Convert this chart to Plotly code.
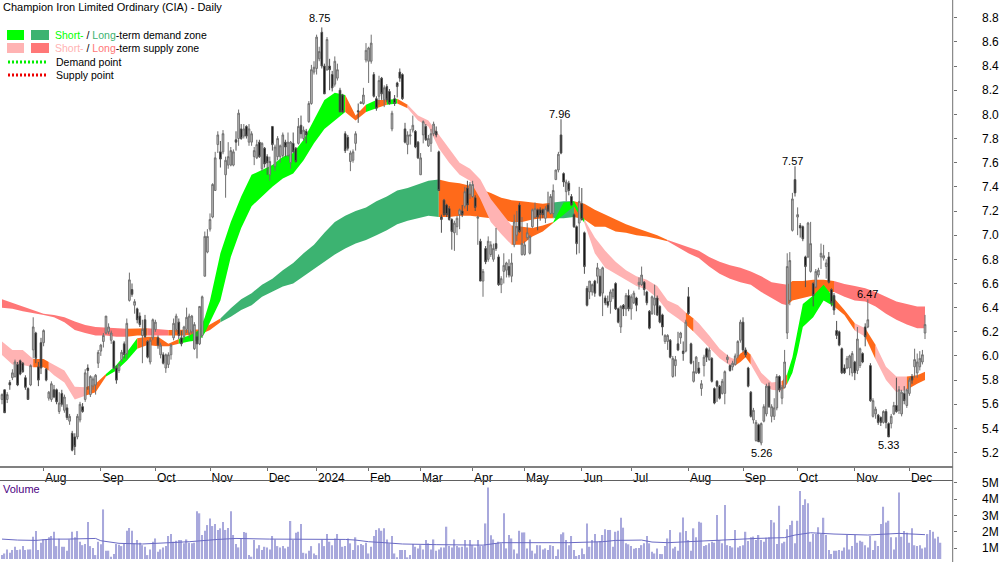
import plotly.graph_objects as go

opens = [
    5.64, 5.72, 5.64, 5.78, 5.82, 5.83, 5.93, 5.96, 5.94, 5.82,
    5.73, 5.76, 6.05, 6.19, 5.91, 6.11, 6.11, 5.89, 5.65, 5.64,
    5.72, 5.72, 5.54, 5.69, 5.55, 5.57, 5.46, 5.36, 5.33, 5.33,
    5.47, 5.58, 5.64, 5.90, 5.68, 5.75, 5.76, 5.94, 6.04, 6.12,
    6.19, 6.20, 6.13, 6.12, 5.90, 5.88, 5.97, 6.10, 6.02, 6.46,
    6.55, 6.42, 6.39, 6.33, 6.17, 6.30, 6.12, 5.95, 6.15, 6.22,
    6.15, 6.01, 6.01, 5.90, 5.93, 6.01, 6.15, 6.22, 6.28, 6.15,
    6.16, 6.22, 6.19, 6.20, 6.06, 6.16, 6.10, 6.17, 6.66, 6.86,
    7.05, 7.15, 7.37, 7.75, 7.69, 7.69, 7.50, 7.58, 7.58, 7.58,
    7.79, 7.80, 7.88, 7.82, 7.90, 7.77, 7.77, 7.65, 7.64, 7.77,
    7.55, 7.72, 7.65, 7.50, 7.90, 7.57, 7.65, 7.65, 7.66, 7.77,
    7.66, 7.60, 7.76, 7.72, 7.76, 7.91, 7.80, 7.86, 7.94, 8.09,
    8.35, 8.38, 8.46, 8.68, 8.40, 8.37, 8.40, 8.33, 8.25, 8.30,
    8.20, 8.16, 7.84, 7.81, 7.61, 7.62, 7.76, 8.03, 8.09, 8.09,
    8.45, 8.44, 8.44, 8.33, 8.13, 8.15, 8.30, 8.12, 8.23, 8.19,
    7.88, 8.13, 8.26, 8.35, 8.33, 7.88, 7.75, 7.82, 7.87, 7.86,
    7.77, 7.50, 7.83, 7.90, 7.74, 7.76, 7.84, 7.86, 7.69, 7.15,
    7.29, 7.25, 7.22, 7.13, 7.02, 7.07, 7.17, 7.20, 7.24, 7.39,
    7.34, 7.32, 7.31, 7.14, 6.95, 6.62, 6.89, 6.80, 6.84, 6.80,
    6.93, 6.82, 6.59, 6.70, 6.71, 6.74, 6.66, 6.92, 7.00, 7.25,
    6.84, 6.84, 6.98, 6.85, 7.07, 7.15, 7.21, 7.21, 7.21, 7.14,
    7.25, 7.18, 7.18, 7.46, 7.54, 7.83, 7.51, 7.36, 7.43, 7.32,
    7.17, 7.07, 7.10, 7.26, 7.02, 6.56, 6.53, 6.53, 6.62, 6.66,
    6.66, 6.52, 6.48, 6.45, 6.45, 6.49, 6.60, 6.39, 6.24, 6.42,
    6.39, 6.50, 6.39, 6.44, 6.48, 6.59, 6.59, 6.61, 6.53, 6.37,
    6.35, 6.42, 6.48, 6.41, 6.34, 6.12, 6.12, 6.13, 5.83, 5.92,
    6.10, 6.15, 6.04, 6.04, 6.49, 6.10, 5.79, 5.86, 5.90, 5.73,
    5.92, 6.06, 5.97, 5.98, 5.73, 5.79, 5.75, 5.69, 5.69, 5.97,
    5.92, 5.91, 5.93, 6.00, 6.13, 6.28, 6.05, 5.90, 5.70, 5.47,
    5.30, 5.43, 5.28, 5.46, 5.52, 5.75, 5.50, 5.50, 5.57, 5.83,
    5.65, 5.74, 6.19, 6.46, 7.04, 7.46, 7.15, 7.08, 7.07, 6.82,
    6.82, 6.70, 6.60, 6.57, 6.67, 6.82, 6.81, 6.74, 6.82, 6.55,
    6.50, 6.21, 6.20, 6.06, 5.90, 5.90, 5.90, 5.86, 5.95, 5.88,
    5.92, 6.02, 6.24, 6.24, 5.92, 5.50, 5.52, 5.51, 5.49, 5.45,
    5.54, 5.44, 5.44, 5.52, 5.59, 5.55, 5.52, 5.69, 5.59, 5.69,
    5.83, 5.91, 5.86, 5.91, 5.95, 6.19,
]
closes = [
    5.68, 5.53, 5.68, 5.76, 5.86, 5.95, 5.76, 5.85, 5.87, 5.74,
    5.64, 5.92, 6.24, 5.98, 5.80, 5.90, 6.21, 5.80, 5.70, 5.77,
    5.66, 5.62, 5.61, 5.60, 5.66, 5.49, 5.50, 5.22, 5.25, 5.50,
    5.60, 5.54, 5.86, 5.88, 5.83, 5.81, 5.84, 6.03, 6.09, 6.17,
    6.33, 6.24, 6.19, 5.90, 5.80, 5.93, 6.03, 6.01, 6.27, 6.63,
    6.51, 6.45, 6.30, 6.26, 6.22, 6.16, 5.99, 6.13, 6.30, 6.28,
    6.09, 6.09, 5.94, 6.01, 6.01, 6.09, 6.27, 6.33, 6.17, 6.10,
    6.24, 6.32, 6.33, 6.33, 6.26, 6.10, 6.41, 6.49, 6.99, 6.99,
    7.13, 7.42, 7.64, 7.83, 7.63, 7.84, 7.62, 7.65, 7.70, 7.69,
    7.77, 8.01, 7.80, 7.88, 7.82, 7.88, 7.84, 7.70, 7.75, 7.65,
    7.76, 7.59, 7.60, 7.61, 7.75, 7.73, 7.80, 7.74, 7.83, 7.73,
    7.77, 7.77, 7.69, 7.61, 7.90, 7.84, 7.87, 7.83, 8.09, 8.37,
    8.39, 8.64, 8.52, 8.40, 8.17, 8.62, 8.37, 8.22, 8.44, 8.37,
    8.02, 8.02, 7.70, 7.72, 7.68, 7.69, 7.84, 8.02, 8.10, 8.16,
    8.53, 8.55, 8.59, 8.15, 8.05, 8.28, 8.17, 8.22, 8.12, 8.09,
    8.01, 8.09, 8.23, 8.30, 8.13, 7.77, 7.83, 7.83, 7.91, 7.73,
    7.64, 7.64, 7.94, 7.79, 7.80, 7.84, 7.92, 7.83, 7.37, 7.13,
    7.17, 7.17, 7.13, 7.03, 7.10, 7.14, 7.21, 7.17, 7.36, 7.25,
    7.42, 7.42, 7.23, 7.15, 6.62, 6.70, 6.78, 6.95, 6.92, 6.89,
    6.89, 6.59, 6.64, 6.75, 6.77, 6.67, 6.77, 7.11, 7.07, 7.03,
    6.93, 6.92, 7.02, 6.99, 7.21, 7.22, 7.15, 7.17, 7.17, 7.22,
    7.20, 7.32, 7.37, 7.54, 7.67, 7.68, 7.44, 7.44, 7.37, 7.25,
    7.07, 6.93, 7.28, 7.13, 6.74, 6.42, 6.62, 6.59, 6.52, 6.73,
    6.50, 6.73, 6.44, 6.42, 6.53, 6.55, 6.39, 6.28, 6.41, 6.39,
    6.50, 6.39, 6.49, 6.52, 6.42, 6.61, 6.67, 6.55, 6.44, 6.23,
    6.49, 6.48, 6.34, 6.28, 6.24, 6.17, 6.17, 5.99, 5.98, 5.97,
    6.05, 6.19, 6.02, 6.28, 6.35, 5.94, 5.87, 5.99, 5.86, 5.77,
    5.99, 5.99, 6.05, 5.79, 5.61, 5.75, 5.65, 5.79, 5.87, 5.99,
    5.88, 5.94, 6.00, 6.12, 6.28, 6.05, 6.01, 5.75, 5.50, 5.55,
    5.45, 5.29, 5.44, 5.58, 5.75, 5.58, 5.58, 5.57, 5.83, 5.72,
    5.74, 5.95, 6.74, 6.79, 7.30, 7.35, 7.17, 7.06, 6.97, 6.74,
    7.10, 6.93, 6.50, 6.70, 6.71, 6.85, 6.83, 6.77, 6.61, 6.44,
    6.38, 6.17, 6.09, 5.86, 5.86, 5.98, 6.00, 6.02, 5.86, 6.14,
    6.06, 5.95, 6.16, 6.30, 5.63, 5.63, 5.56, 5.45, 5.45, 5.54,
    5.45, 5.33, 5.50, 5.59, 5.54, 5.72, 5.70, 5.63, 5.72, 5.80,
    5.80, 5.97, 5.95, 5.98, 6.01, 6.26,
]
highs = [
    5.69, 5.72, 5.70, 5.80, 5.89, 5.97, 5.95, 5.97, 5.95, 5.84,
    5.74, 5.93, 6.32, 6.20, 5.95, 6.15, 6.22, 5.90, 5.71, 5.79,
    5.76, 5.73, 5.70, 5.72, 5.68, 5.60, 5.52, 5.38, 5.36, 5.52,
    5.62, 5.61, 5.89, 5.93, 5.84, 5.83, 5.85, 6.05, 6.10, 6.19,
    6.33, 6.27, 6.21, 6.13, 5.92, 5.94, 6.05, 6.12, 6.31, 6.69,
    6.60, 6.47, 6.40, 6.36, 6.30, 6.34, 6.13, 6.15, 6.31, 6.30,
    6.17, 6.11, 6.03, 6.02, 6.03, 6.10, 6.31, 6.35, 6.31, 6.21,
    6.25, 6.40, 6.35, 6.34, 6.28, 6.20, 6.41, 6.50, 7.03, 7.05,
    7.18, 7.43, 7.69, 7.86, 7.78, 7.87, 7.65, 7.77, 7.73, 7.71,
    7.86, 8.04, 7.92, 7.92, 7.91, 7.92, 7.86, 7.73, 7.79, 7.79,
    7.77, 7.73, 7.67, 7.65, 7.90, 7.75, 7.82, 7.75, 7.85, 7.79,
    7.85, 7.78, 7.85, 7.73, 7.97, 7.99, 7.90, 7.88, 8.11, 8.41,
    8.44, 8.66, 8.56, 8.72, 8.42, 8.64, 8.46, 8.36, 8.48, 8.42,
    8.22, 8.17, 7.86, 7.83, 7.70, 7.71, 7.86, 8.09, 8.11, 8.22,
    8.59, 8.56, 8.66, 8.35, 8.15, 8.32, 8.31, 8.24, 8.25, 8.21,
    8.03, 8.16, 8.27, 8.38, 8.34, 7.93, 7.86, 7.88, 7.99, 7.87,
    7.78, 7.68, 7.95, 7.92, 7.83, 7.88, 7.94, 7.90, 7.70, 7.17,
    7.30, 7.26, 7.24, 7.14, 7.12, 7.16, 7.22, 7.25, 7.40, 7.45,
    7.44, 7.45, 7.33, 7.16, 6.97, 6.72, 6.91, 6.99, 6.95, 6.93,
    7.06, 6.84, 6.66, 6.85, 6.78, 6.80, 6.85, 7.17, 7.20, 7.27,
    7.15, 6.95, 7.10, 7.00, 7.22, 7.27, 7.22, 7.23, 7.22, 7.24,
    7.36, 7.34, 7.42, 7.54, 7.69, 7.96, 7.52, 7.46, 7.45, 7.34,
    7.18, 7.08, 7.40, 7.39, 7.03, 6.58, 6.62, 6.60, 6.63, 6.77,
    6.72, 6.74, 6.50, 6.50, 6.55, 6.56, 6.61, 6.40, 6.42, 6.43,
    6.52, 6.55, 6.51, 6.54, 6.49, 6.65, 6.74, 6.62, 6.54, 6.38,
    6.50, 6.59, 6.50, 6.42, 6.35, 6.18, 6.18, 6.14, 6.00, 6.00,
    6.20, 6.20, 6.12, 6.30, 6.57, 6.11, 5.96, 6.00, 5.95, 5.80,
    6.01, 6.07, 6.07, 5.99, 5.74, 5.80, 5.76, 5.81, 5.88, 6.01,
    5.93, 5.96, 6.02, 6.13, 6.30, 6.32, 6.07, 5.91, 5.71, 5.57,
    5.47, 5.44, 5.45, 5.60, 5.77, 5.78, 5.60, 5.65, 5.85, 5.84,
    5.76, 6.05, 6.85, 6.86, 7.35, 7.57, 7.23, 7.10, 7.08, 6.83,
    7.11, 7.11, 6.61, 6.72, 6.73, 6.93, 6.92, 6.80, 6.86, 6.56,
    6.52, 6.29, 6.21, 6.07, 5.93, 6.00, 6.01, 6.04, 5.96, 6.24,
    6.07, 6.03, 6.27, 6.47, 5.94, 5.65, 5.58, 5.52, 5.50, 5.55,
    5.56, 5.45, 5.52, 5.62, 5.82, 5.75, 5.72, 5.75, 5.73, 5.82,
    5.85, 6.06, 6.02, 6.04, 6.05, 6.34,
]
lows = [
    5.60, 5.53, 5.61, 5.72, 5.80, 5.82, 5.75, 5.84, 5.86, 5.72,
    5.64, 5.75, 5.98, 5.94, 5.75, 5.85, 6.08, 5.79, 5.63, 5.62,
    5.65, 5.60, 5.52, 5.58, 5.53, 5.47, 5.43, 5.21, 5.18, 5.31,
    5.45, 5.53, 5.62, 5.72, 5.66, 5.72, 5.68, 5.90, 6.00, 6.07,
    6.18, 6.18, 6.10, 5.89, 5.77, 5.86, 5.95, 5.98, 5.97, 6.45,
    6.49, 6.35, 6.27, 6.24, 5.94, 6.15, 5.98, 5.93, 6.13, 6.20,
    6.06, 5.98, 5.93, 5.86, 5.90, 5.97, 6.13, 6.20, 6.14, 6.08,
    6.13, 6.19, 6.15, 6.18, 6.05, 5.98, 6.09, 6.15, 6.66, 6.85,
    7.03, 7.14, 7.37, 7.68, 7.56, 7.67, 7.31, 7.55, 7.57, 7.57,
    7.70, 7.74, 7.79, 7.80, 7.80, 7.74, 7.74, 7.58, 7.63, 7.64,
    7.53, 7.56, 7.50, 7.45, 7.70, 7.53, 7.62, 7.60, 7.64, 7.65,
    7.65, 7.55, 7.68, 7.60, 7.75, 7.80, 7.78, 7.76, 7.93, 8.08,
    8.33, 8.33, 8.44, 8.38, 8.17, 8.36, 8.20, 8.19, 8.23, 8.28,
    8.02, 8.01, 7.68, 7.70, 7.53, 7.60, 7.70, 7.93, 8.09, 8.08,
    8.43, 8.26, 8.42, 8.14, 8.03, 8.08, 8.12, 8.06, 8.10, 8.08,
    7.86, 8.07, 8.14, 8.27, 8.12, 7.76, 7.67, 7.75, 7.85, 7.72,
    7.63, 7.50, 7.76, 7.78, 7.73, 7.69, 7.82, 7.81, 7.37, 7.02,
    7.16, 7.15, 7.12, 6.88, 6.87, 7.00, 7.05, 7.15, 7.22, 7.20,
    7.30, 7.31, 7.20, 6.92, 6.62, 6.49, 6.76, 6.78, 6.82, 6.78,
    6.87, 6.58, 6.52, 6.60, 6.65, 6.65, 6.61, 6.90, 6.95, 7.02,
    6.83, 6.83, 6.96, 6.84, 7.06, 7.14, 7.04, 7.12, 7.14, 7.10,
    7.19, 7.17, 7.15, 7.46, 7.52, 7.67, 7.40, 7.28, 7.33, 7.24,
    7.06, 6.84, 6.85, 7.12, 6.68, 6.41, 6.47, 6.50, 6.49, 6.60,
    6.49, 6.33, 6.42, 6.40, 6.35, 6.47, 6.38, 6.27, 6.19, 6.33,
    6.33, 6.37, 6.30, 6.43, 6.37, 6.55, 6.58, 6.50, 6.42, 6.22,
    6.34, 6.34, 6.33, 6.27, 6.17, 6.10, 6.05, 5.98, 5.82, 5.83,
    6.04, 6.10, 5.96, 6.03, 6.34, 5.93, 5.78, 5.85, 5.85, 5.67,
    5.83, 5.95, 5.96, 5.78, 5.60, 5.62, 5.64, 5.68, 5.60, 5.94,
    5.87, 5.88, 5.92, 5.98, 6.11, 6.03, 5.99, 5.74, 5.49, 5.44,
    5.29, 5.29, 5.26, 5.45, 5.50, 5.57, 5.45, 5.47, 5.55, 5.70,
    5.60, 5.73, 6.14, 6.42, 7.03, 7.32, 7.00, 6.98, 6.95, 6.57,
    6.81, 6.69, 6.41, 6.56, 6.65, 6.72, 6.79, 6.64, 6.60, 6.41,
    6.34, 6.14, 6.08, 5.85, 5.85, 5.89, 5.84, 5.83, 5.80, 5.85,
    5.90, 5.94, 6.08, 6.23, 5.62, 5.49, 5.48, 5.43, 5.42, 5.44,
    5.40, 5.33, 5.40, 5.51, 5.53, 5.52, 5.50, 5.60, 5.57, 5.67,
    5.77, 5.82, 5.82, 5.88, 5.93, 6.14,
]
volumes = [
    .58, .68, .93, .72, .89, 1.09, .89, .93, 1.13, .89, .93, .93, 1.71, 2.05, .89, 1.34, 1.54, 1.54, 1.67, 1.75,
    2.01, 1.13, 1.58, 1.09, 1.09, .85, 1.54, 2.01, 1.67, 2.05, 1.40, 1.19, 1.26, 2.61, 1.13, 1.01, .58, 1.40, 1.24, 3.38,
    .85, .85, .48, .64, 1.26, 1.22, 1.13, 1.26, 2.07, 2.24, 2.07, 1.30, 1.50, 1.34, 1.19, 1.09, .58, .93, 1.40, 1.60,
    .79, .93, 1.05, 1.13, 1.75, 1.87, 1.40, 1.46, 1.50, 1.50, 1.30, 1.54, 1.34, 1.30, 1.34, 3.26, 3.14, 1.81, 2.07, 2.42,
    2.83, 2.36, 2.48, 2.12, 2.22, 2.61, 2.12, 2.24, 3.26, 1.81, 1.26, 1.05, 1.60, 1.99, 1.95, .58, .48, 1.50, .99, 1.19,
    .89, 1.09, 1.05, .93, 1.75, 1.54, 1.13, 1.05, 1.13, .99, 1.09, 2.67, 1.50, 1.95, 2.01, 2.48, .72, .68, .85, 1.13,
    .68, .58, 1.30, 1.54, 1.13, 1.87, 1.40, 1.19, 1.60, 1.87, 1.54, 1.09, 1.13, 1.60, 1.30, .89, 1.67, 1.19, 1.26, 1.19,
    1.34, .68, 1.09, 1.75, 2.12, 2.22, 2.07, 2.22, 1.54, 1.30, 1.75, .68, .44, .89, .89, .89, .44, .58, 1.26, 1.09,
    .99, 1.19, .93, 1.50, 1.30, .93, 1.54, .85, .93, 1.05, 1.05, 2.32, 1.13, 1.05, 1.54, 1.13, 1.05, 1.09, 1.50, 1.05,
    1.50, 1.19, 1.05, 1.50, 1.13, 1.13, 2.52, 4.73, 1.79, 1.54, 1.30, 1.40, 1.30, 3.14,
    .99, 1.81, 1.60, .93, .68, 2.07, 1.97, 1.97, .99, 1.54, .85, .68, 1.19, 1.19, .93, .99, .89, 1.19, 1.13, .52,
    .93, 1.85, 1.97, 1.50, 1.19, 1.75, .89, .52, .58, .99, .64, 2.52, 1.09, 1.50, 1.87, 1.40, 1.44, 1.81, 2.16, 2.12,
    2.12, 1.09, 2.01, 2.07, 2.87, 2.26, 1.30, 1.24, 1.13, .97, 1.01, 1.01, 1.19, 1.30, 1.75, 1.30, .79, .68, .99, .64,
    .64, 1.13, 1.60, 2.12, .99, 1.09, .85, 1.97, 2.89, 2.05, 1.50, .85, 2.22, 1.67, 2.63, 2.57, 1.13, 1.19, 1.30, 1.40,
    1.34, 3.04, 1.50, 1.30, 3.65, 1.19, 1.13, 1.05, 2.12, 1.05, 1.13, 1.19, 2.01, 1.44, 1.67, 1.71, 1.50, 1.81, 1.50, 1.40,
    1.65, 1.67, 2.73, 2.57, 1.26, 3.61, 1.30, 1.40, 2.16, 2.42, 2.69, 1.30, 2.69, 4.51, 3.65, 4.00, 3.75, 1.40, 1.87, 1.87,
    2.28, 1.87, 2.87, 1.81, .89, .64, .85, .85, .89, .85, 1.05, 1.81, .93, 1.13, 1.81, 1.34, 1.46, 1.40, 1.19, 1.05,
    1.75, .89, 1.46, 1.13, 2.48, 3.55, 2.57, 2.69, 1.67, .93, 1.67, 4.41, 1.71, 2.05, 1.95, 1.34, 2.22, 1.19, 1.13, 1.19,
    .99, 1.05, 1.87, 2.12, 2.01, 1.60, 1.71, 1.34,
]

vol_ma_x = [0, 6, 13, 19, 25, 36, 38, 45, 54, 61, 72, 83, 90, 103, 115, 128, 132, 136, 141, 147, 154, 167, 180, 185,
            192, 200, 205, 218, 231, 236, 246, 250, 256, 264, 272, 282, 290, 301, 305, 311, 320, 333, 339, 345, 355]
vol_ma = [1.56, 1.50, 1.48, 1.56, 1.56, 1.60, 1.46, 1.30, 1.26, 1.30, 1.40, 1.54, 1.60, 1.56, 1.56, 1.58, 1.54, 1.50,
          1.40, 1.34, 1.26, 1.22, 1.19, 1.19, 1.34, 1.34, 1.30, 1.34, 1.40, 1.48, 1.50, 1.38, 1.34, 1.40, 1.50, 1.58,
          1.60, 1.65, 1.81, 1.95, 1.87, 1.81, 1.87, 1.91, 1.83]

long_x = [0, 4, 8, 12, 16, 20, 24, 28, 32, 36, 40, 44, 48, 52, 56, 60, 64, 68, 72, 76, 80, 84, 88, 92, 96, 100, 104,
          108, 112, 116, 120, 124, 128, 132, 136, 140, 144, 148, 152, 156, 160, 164, 168, 172, 176, 180, 184, 188,
          192, 196, 200, 204, 208, 212, 216, 220, 224, 228, 232, 236, 240, 244, 248, 252, 256, 260, 264, 268, 272,
          276, 280, 284, 288, 292, 296, 300, 302, 304, 308, 312, 316, 320, 324, 328, 332, 336, 340, 344, 348, 352, 355]
long_top = [6.47, 6.44, 6.41, 6.375, 6.35, 6.34, 6.32, 6.285, 6.257, 6.24, 6.235, 6.225, 6.225, 6.23, 6.23, 6.22,
            6.215, 6.215, 6.22, 6.22, 6.26, 6.31, 6.395, 6.47, 6.52, 6.59, 6.64, 6.71, 6.77, 6.85, 6.92, 7.02, 7.11,
            7.16, 7.20, 7.23, 7.28, 7.32, 7.37, 7.39, 7.42, 7.45, 7.46, 7.44, 7.43, 7.41, 7.38, 7.35, 7.31, 7.29,
            7.28, 7.27, 7.26, 7.27, 7.28, 7.28, 7.26, 7.21, 7.17, 7.13, 7.09, 7.06, 7.03, 7.00, 6.96, 6.93, 6.90,
            6.87, 6.82, 6.78, 6.75, 6.73, 6.70, 6.66, 6.61, 6.595, 6.59, 6.62, 6.62, 6.63, 6.63, 6.62, 6.595, 6.58,
            6.56, 6.53, 6.49, 6.45, 6.43, 6.41, 6.41]
long_bot = [6.40, 6.39, 6.37, 6.353, 6.34, 6.32, 6.28, 6.215, 6.19, 6.17, 6.17, 6.16, 6.16, 6.17, 6.17, 6.17, 6.17,
            6.17, 6.17, 6.175, 6.215, 6.28, 6.325, 6.38, 6.42, 6.49, 6.53, 6.575, 6.60, 6.66, 6.72, 6.78, 6.84, 6.89,
            6.93, 6.96, 7.00, 7.04, 7.09, 7.12, 7.14, 7.16, 7.15, 7.15, 7.16, 7.16, 7.15, 7.14, 7.13, 7.11, 7.11,
            7.13, 7.14, 7.14, 7.14, 7.15, 7.13, 7.07, 7.07, 7.03, 7.02, 7.00, 6.99, 6.97, 6.95, 6.90, 6.85, 6.81,
            6.74, 6.68, 6.64, 6.61, 6.59, 6.53, 6.48, 6.43, 6.42, 6.46, 6.48, 6.50, 6.53, 6.53, 6.49, 6.46, 6.45,
            6.41, 6.35, 6.30, 6.26, 6.23, 6.23]

short_x = [0, 4, 8, 12, 16, 18, 20, 24, 28, 32, 36, 40, 44, 48, 52, 56, 60, 64, 68, 72, 76, 78, 80, 84, 88, 92, 96,
           100, 104, 108, 112, 116, 120, 124, 128, 132, 136, 140, 144, 148, 152, 156, 160, 164, 168, 172, 176, 180,
           184, 188, 192, 196, 200, 204, 208, 212, 216, 220, 224, 228, 232, 236, 240, 244, 248, 252, 256, 260, 263,
           266, 268, 272, 276, 280, 282, 284, 286, 288, 292, 296, 300, 302, 304, 306, 308, 312, 316, 320, 324, 328,
           332, 336, 340, 344, 348, 352, 355]
short_top = [6.12, 6.05, 6.05, 5.975, 5.975, 5.95, 5.925, 5.88, 5.746, 5.74, 5.77, 5.85, 5.925, 6.03, 6.146, 6.16,
             6.16, 6.10, 6.14, 6.17, 6.215, 6.32, 6.46, 6.85, 7.11, 7.32, 7.50, 7.54, 7.58, 7.65, 7.68, 7.79, 7.95,
             8.12, 8.18, 8.16, 7.99, 8.08, 8.12, 8.12, 8.13, 8.08, 7.99, 7.95, 7.83, 7.72, 7.60, 7.55, 7.46, 7.30,
             7.19, 7.08, 7.07, 7.06, 7.08, 7.11, 7.27, 7.28, 7.13, 6.98, 6.87, 6.78, 6.71, 6.66, 6.63, 6.58, 6.46,
             6.42, 6.36, 6.31, 6.27, 6.17, 6.06, 5.99, 5.97, 6.02, 6.05, 6.01, 5.86, 5.78, 5.79, 5.85, 5.99, 6.21,
             6.43, 6.50, 6.59, 6.48, 6.38, 6.27, 6.23, 6.09, 5.91, 5.83, 5.83, 5.84, 5.87]
short_bot = [6.008, 5.93, 5.925, 5.906, 5.906, 5.88, 5.84, 5.78, 5.64, 5.67, 5.70, 5.83, 5.88, 5.96, 6.06, 6.09,
             6.08, 6.08, 6.10, 6.12, 6.13, 6.19, 6.27, 6.46, 6.82, 7.06, 7.24, 7.32, 7.40, 7.47, 7.51, 7.62, 7.76,
             7.88, 7.95, 8.02, 7.95, 8.02, 8.05, 8.08, 8.09, 8.05, 7.95, 7.90, 7.72, 7.60, 7.50, 7.45, 7.30, 7.11,
             7.01, 6.92, 6.92, 6.99, 7.03, 7.10, 7.17, 7.24, 7.10, 6.85, 6.73, 6.68, 6.63, 6.58, 6.55, 6.48, 6.37,
             6.31, 6.26, 6.20, 6.16, 6.07, 5.98, 5.92, 5.92, 5.95, 5.99, 5.93, 5.78, 5.72, 5.71, 5.77, 5.86, 6.03,
             6.24, 6.32, 6.46, 6.41, 6.34, 6.21, 6.16, 5.97, 5.80, 5.70, 5.72, 5.77, 5.80]

DEMAND_SHORT = "#00ff00"
DEMAND_LONG = "#3cb371"
SUPPLY_SHORT = "#ffb3b3"
SUPPLY_LONG = "#ff7777"
CONFLICT = "#ff6a1a"

long_spans = [(0, 48, SUPPLY_LONG), (48, 56, CONFLICT), (56, 64, SUPPLY_LONG), (64, 84, CONFLICT),
              (84, 168, DEMAND_LONG), (168, 212, CONFLICT), (212, 220, DEMAND_LONG), (220, 256, CONFLICT),
              (256, 302, SUPPLY_LONG), (302, 320, CONFLICT), (320, 355, SUPPLY_LONG)]
short_spans = [(0, 12, SUPPLY_SHORT), (12, 18, CONFLICT), (18, 32, SUPPLY_SHORT), (32, 40, CONFLICT),
               (40, 52, DEMAND_SHORT), (52, 68, CONFLICT), (68, 132, DEMAND_SHORT), (132, 140, CONFLICT),
               (140, 144, DEMAND_SHORT), (144, 148, CONFLICT), (148, 152, DEMAND_SHORT), (152, 156, CONFLICT),
               (156, 196, SUPPLY_SHORT), (196, 212, CONFLICT), (212, 224, DEMAND_SHORT), (224, 263, SUPPLY_SHORT),
               (263, 266, CONFLICT), (266, 282, SUPPLY_SHORT), (282, 288, CONFLICT), (288, 300, SUPPLY_SHORT),
               (300, 302, CONFLICT), (302, 320, DEMAND_SHORT), (320, 328, CONFLICT), (328, 332, SUPPLY_SHORT),
               (332, 336, CONFLICT), (336, 348, SUPPLY_SHORT), (348, 355, CONFLICT)]

month_pos = [16, 38, 59, 80, 102, 121, 141, 161, 181, 201, 223, 242, 264, 285, 306, 328, 349]
month_labels = ["Aug", "Sep", "Oct", "Nov", "Dec", "2024", "Feb", "Mar", "Apr", "May", "Jun", "Jul", "Aug", "Sep",
                "Oct", "Nov", "Dec"]
price_ticks = [5.2, 5.4, 5.6, 5.8, 6.0, 6.2, 6.4, 6.6, 6.8, 7.0, 7.2, 7.4, 7.6, 7.8, 8.0, 8.2, 8.4, 8.6, 8.8]
vol_ticks = [1, 2, 3, 4, 5]
vol_tick_labels = ["1M", "2M", "3M", "4M", "5M"]

high_labels = [(122, 8.75), (214.5, 7.96), (304, 7.57), (333, 6.47)]
low_labels = [(292, 5.26), (341, 5.33)]

FONT = "Liberation Sans"
AXIS_RIGHT = 0.9527
PRICE_RANGE = [5.093, 8.947]
X_RANGE = [-0.77, 365.65]

assert len(opens) == len(closes) == len(highs) == len(lows)
assert len(long_x) == len(long_top) == len(long_bot)
assert len(short_x) == len(short_top) == len(short_bot)

fig = go.Figure()


def add_zone(xs, top, bot, spans):
    for start, end, color in spans:
        a = xs.index(start)
        b = xs.index(end) + 1
        fig.add_trace(go.Scatter(
            x=xs[a:b] + xs[a:b][::-1],
            y=top[a:b] + bot[a:b][::-1],
            fill="toself", fillcolor=color, mode="lines", line=dict(width=0, color=color),
            hoverinfo="skip", showlegend=False,
        ))


add_zone(long_x, long_top, long_bot, long_spans)
add_zone(short_x, short_top, short_bot, short_spans)

# candles sit on an overlaying axis so they draw above the zones
fig.add_trace(go.Candlestick(
    x=list(range(len(opens))), open=opens, high=highs, low=lows, close=closes, yaxis="y3",
    increasing=dict(line=dict(color="#707070", width=1), fillcolor="#c4c4c4"),
    decreasing=dict(line=dict(color="#505050", width=1), fillcolor="#000000"),
    showlegend=False,
))

fig.add_trace(go.Bar(
    x=list(range(len(volumes))), y=volumes, xaxis="x2", yaxis="y2", width=0.5,
    marker=dict(color="#a8a8dc", line=dict(width=0)), showlegend=False,
))
fig.add_trace(go.Scatter(
    x=vol_ma_x, y=vol_ma, xaxis="x2", yaxis="y2", mode="lines",
    line=dict(color="#6a6ac4", width=1), showlegend=False,
))

annotations = []
for x, value in high_labels:
    annotations.append(dict(x=x, y=value, yref="y", xref="x", text=f"{value:.2f}", showarrow=False, yanchor="bottom",
                            yshift=-2.5, font=dict(size=11)))
for x, value in low_labels:
    annotations.append(dict(x=x, y=value, yref="y", xref="x", text=f"{value:.2f}", showarrow=False, yanchor="top",
                            font=dict(size=11)))


def note(text, px, py, color="#000000", size=10.5):
    annotations.append(dict(x=px / 1000, y=1 - py / 562, xref="paper", yref="paper", text=text, showarrow=False,
                            xanchor="left", yanchor="middle", font=dict(color=color, size=size), borderpad=0))


note("Champion Iron Limited Ordinary (CIA) - Daily", 2, 7, size=11)
note("<span style='color:#00ff00'>Short-</span> / <span style='color:#3cb371'>Long</span>-term demand zone", 54, 35)
note("<span style='color:#ffb3b3'>Short-</span> / <span style='color:#ff7777'>Long</span>-term supply zone", 54, 48)
note("Demand point", 55, 62)
note("Supply point", 55, 75)
note("Volume", 2, 489, "#4b0082", 11)

shapes = []


def swatch(x0, x1, y0, y1, color):
    shapes.append(dict(type="rect", xref="paper", yref="paper", x0=x0 / 1000, x1=x1 / 1000,
                       y0=1 - y1 / 562, y1=1 - y0 / 562, fillcolor=color, line=dict(width=0)))


swatch(7, 24, 30, 40, DEMAND_SHORT)
swatch(31, 49, 30, 40, DEMAND_LONG)
swatch(7, 24, 43, 53, SUPPLY_SHORT)
swatch(31, 49, 43, 53, SUPPLY_LONG)
for py, color in [(62, "#00ee00"), (75, "#ee0000")]:
    shapes.append(dict(type="line", xref="paper", yref="paper", x0=8 / 1000, x1=48 / 1000,
                       y0=1 - py / 562, y1=1 - py / 562, line=dict(color=color, width=3, dash="2px,2px")))
shapes.append(dict(type="line", xref="paper", yref="paper", x0=AXIS_RIGHT, x1=AXIS_RIGHT, y0=0, y1=1,
                   line=dict(color="#707070", width=1)))

fig.update_layout(
    width=1000, height=562, margin=dict(l=0, r=0, t=0, b=0), autosize=False,
    paper_bgcolor="white", plot_bgcolor="white", showlegend=False, barmode="overlay", boxgap=0.1,
    font=dict(family=FONT, size=12, color="#000000"),
    annotations=annotations, shapes=shapes,
    xaxis=dict(domain=[0, AXIS_RIGHT], range=X_RANGE, anchor="y", rangeslider=dict(visible=False),
               tickmode="array", tickvals=month_pos, ticktext=month_labels, ticks="outside", ticklen=3,
               tickcolor="#707070", ticklabelposition="outside right", showgrid=False, zeroline=False,
               showline=True, linecolor="#808080", linewidth=2, automargin=False),
    yaxis=dict(domain=[0.1717, 1], range=PRICE_RANGE, side="right", anchor="x", tickmode="array",
               tickvals=price_ticks, ticktext=[f"{t:.1f}" for t in price_ticks], ticks="outside", ticklen=3,
               tickcolor="#707070", ticklabelstandoff=23, showgrid=False, zeroline=False, automargin=False),
    yaxis3=dict(overlaying="y", range=PRICE_RANGE, side="right", visible=False, anchor="x", automargin=False),
    xaxis2=dict(domain=[0, AXIS_RIGHT], range=X_RANGE, anchor="y2", side="top", showticklabels=False, ticks="",
                showgrid=False, zeroline=False, showline=True, linecolor="#606060", linewidth=1, automargin=False),
    yaxis2=dict(domain=[0.00534, 0.1441], range=[0.34, 5.12], side="right", anchor="x2", tickmode="array",
                tickvals=vol_ticks, ticktext=vol_tick_labels, ticks="outside", ticklen=3, tickcolor="#707070",
                ticklabelstandoff=23, showgrid=False, zeroline=False, automargin=False),
)

# the page's default body margin would push the fixed-size figure off the window
fig.write_html("out.html", config=dict(displayModeBar=False),
               post_script="document.body.style.margin='0';document.body.style.overflow='hidden';")
